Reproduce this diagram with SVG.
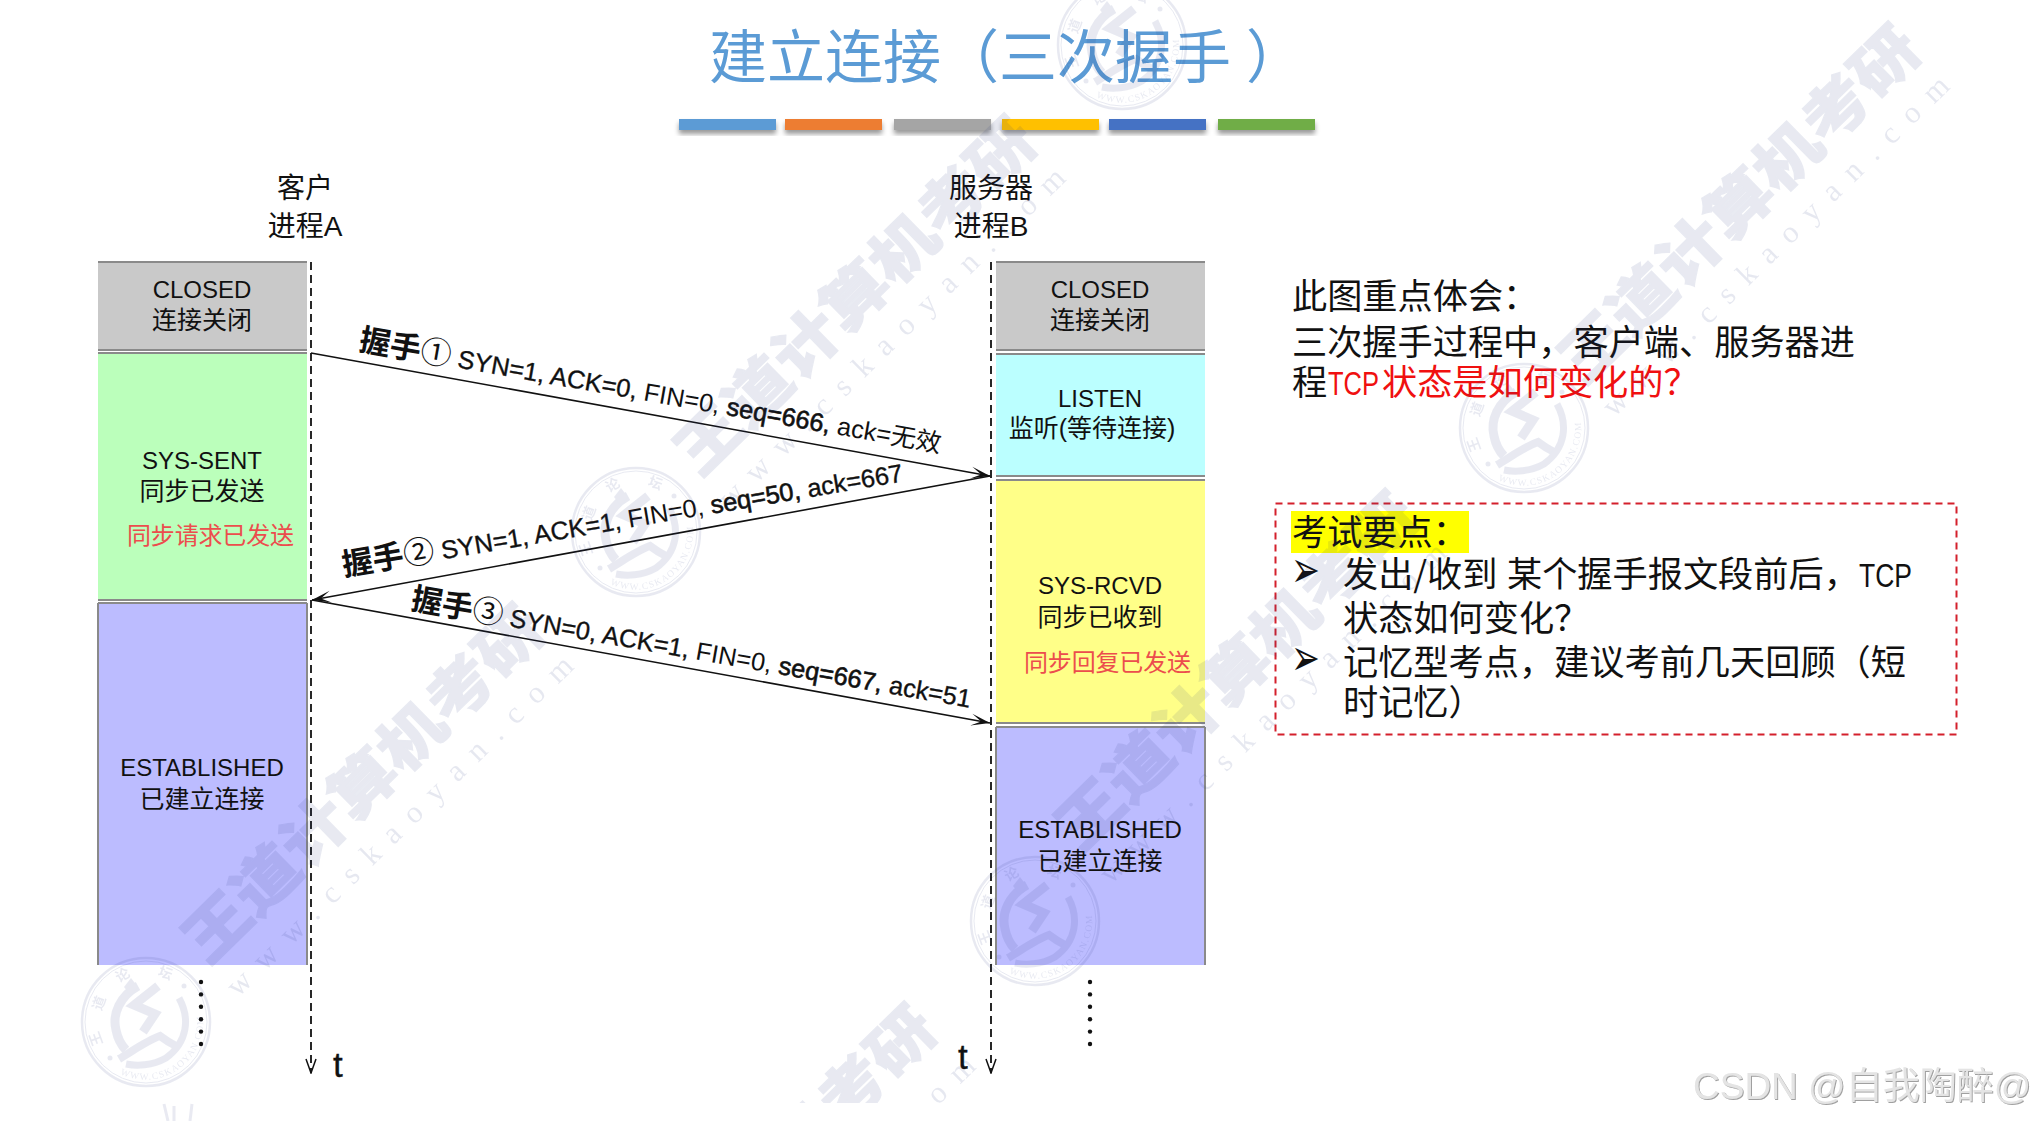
<svg xmlns="http://www.w3.org/2000/svg" xmlns:xlink="http://www.w3.org/1999/xlink" width="2034" height="1121" viewBox="0 0 2034 1121">
<style>
text{font-family:"Liberation Sans","Noto Sans CJK SC",sans-serif;fill:#111}
.s{font-size:25px;text-anchor:middle}
.l{font-size:24px;text-anchor:middle}
.h{font-size:28px;text-anchor:middle}
.r{font-size:24px;fill:#ec4d4d}
.cn{font-family:"Noto Sans CJK SC",sans-serif;font-size:35.2px;fill:#111;text-spacing-trim:space-all}
.tcp{font-size:34px}
.hs{font-size:31px;font-weight:700;font-family:"Noto Sans CJK SC",sans-serif}
.lb{font-size:25.4px}
.sm{stroke:#111;stroke-width:.35px}
.sb{stroke:#111;stroke-width:.6px}
.bd{fill:none;stroke:#8a8a8a;stroke-width:2}
.ln{stroke:#111;stroke-width:1.6;fill:none}
.dash{stroke:#111;stroke-width:1.8;fill:none;stroke-dasharray:8 5}
.wm{font-family:"Noto Sans CJK SC",sans-serif;font-weight:900;font-size:68px;fill:#25357f;stroke:#25357f;stroke-width:1.5px;opacity:.1}
.wu{font-family:"Liberation Serif",serif;font-size:31px;fill:#25357f;opacity:.11}
.st{font-family:"Noto Sans CJK SC",sans-serif;font-size:14px;font-weight:700;fill:#25357f;text-anchor:middle}
.su{font-family:"Liberation Serif",serif;font-size:9.500px;letter-spacing:1.200px;fill:#25357f}
.dot{fill:#111}
.bul{font-size:30px;font-family:"DejaVu Sans",sans-serif}
</style>
<defs>
<marker id="ah" viewBox="0 0 20 14" refX="19" refY="7" markerWidth="20" markerHeight="14" markerUnits="userSpaceOnUse" orient="auto"><path d="M0 1L19 7L0 13L10 7Z" fill="#111"/></marker>
<marker id="op" viewBox="0 0 12 16" refX="6" refY="15" markerWidth="12" markerHeight="16" markerUnits="userSpaceOnUse" orient="0"><path d="M1 1L6 15L11 1" fill="none" stroke="#111" stroke-width="1.500"/></marker>
<filter id="sh" x="-5%" y="-30%" width="110%" height="180%"><feDropShadow dx="0" dy="4" stdDeviation="2.500" flood-color="#000" flood-opacity=".4"/></filter>
<filter id="em" x="-5%" y="-10%" width="110%" height="130%"><feDropShadow dx="1" dy="1" stdDeviation=".6" flood-color="#888" flood-opacity=".8"/></filter>
<clipPath id="cb"><rect width="2034" height="1103"/></clipPath>
<path id="arc" d="M-26 52A58 58 0 0 0 55 -16"/>
<g id="stamp" opacity=".1">
<g fill="none" stroke="#25357f"><circle r="64" stroke-width="2.500"/><circle r="61" stroke-width="1"/>
<path d="M-8 -36C-26 -26 -34 -8 -30 8C-28 18 -24 24 -20 28" stroke-width="9"/>
<path d="M12 -36L-12 -17L9 -8L-3 10" stroke-width="9"/>
<path d="M-27 37C-12 28 2 18 14 14C22 20 30 24 30 24" stroke-width="8"/>
<path d="M33 -24C44 -4 42 20 20 36C6 44 -10 44 -20 42" stroke-width="7"/></g>
<path d="M-15 -44L-8 -35L-15 -26L-22 -35Z" fill="#25357f"/>
<circle cx="-36" cy="36" r="2.500" fill="#25357f"/><circle cx="38" cy="-36" r="2.500" fill="#25357f"/>
<text class="st" x="-24" y="-42" transform="rotate(-30 -24 -48)">论</text><text class="st" x="20" y="-44" transform="rotate(20 20 -50)">坛</text><text class="st" x="-47" y="-14" transform="rotate(-70 -47 -19)">道</text><text class="st" x="-50" y="22" transform="rotate(-110 -50 17)">王</text>
<text class="su"><textPath href="#arc" xlink:href="#arc">WWW.CSKAOYAN.COM</textPath></text>
</g>
</defs>
<rect width="2034" height="1121" fill="#fff"/>

<g id="client-closed"><rect x="98" y="262" width="209" height="88" fill="#c9c9c9"/><path class="bd" d="M98 262H307M98 350H307"/><text class="l" x="202" y="298">CLOSED</text><text class="s" x="202" y="329">连接关闭</text></g>
<g id="client-sent"><rect x="98" y="353" width="209" height="247" fill="#bbffbb"/><path class="bd" d="M98 353H307M98 600H307"/><text class="l" x="202" y="469">SYS-SENT</text><text class="s" x="202" y="500">同步已发送</text><text class="r" x="127" y="544" textLength="167">同步请求已发送</text></g>
<g id="client-est"><rect x="98" y="603" width="209" height="362" fill="#bcbcff"/><path class="bd" d="M98 603H307M98 603V965M307 603V965"/><text class="l" x="202" y="776">ESTABLISHED</text><text class="s" x="202" y="808">已建立连接</text></g>
<g id="server-closed"><rect x="996" y="262" width="209" height="88" fill="#c9c9c9"/><path class="bd" d="M996 262H1205M996 350H1205"/><text class="l" x="1100" y="298">CLOSED</text><text class="s" x="1100" y="329">连接关闭</text></g>
<g id="server-listen"><rect x="996" y="354" width="209" height="122" fill="#bbffff"/><path class="bd" d="M996 354H1205M996 476H1205"/><text class="l" x="1100" y="407">LISTEN</text><text class="s" x="1092" y="437">监听(等待连接)</text></g>
<g id="server-rcvd"><rect x="996" y="480" width="209" height="243" fill="#ffff88"/><path class="bd" d="M996 480H1205M996 723H1205"/><text class="l" x="1100" y="594">SYS-RCVD</text><text class="s" x="1100" y="626">同步已收到</text><text class="r" x="1024" y="671" textLength="167">同步回复已发送</text></g>
<g id="server-est"><rect x="996" y="727" width="209" height="238" fill="#bcbcff"/><path class="bd" d="M996 727H1205M996 727V965M1205 727V965"/><text class="l" x="1100" y="838">ESTABLISHED</text><text class="s" x="1100" y="870">已建立连接</text></g>

<g id="client-head"><text class="h" x="305" y="198">客户</text><text class="h" x="305" y="236">进程A</text></g>
<g id="server-head"><text class="h" x="991" y="198">服务器</text><text class="h" x="991" y="236">进程B</text></g>

<g id="connectors">
<path class="dash" d="M311 262V1073" marker-end="url(#op)"/>
<path class="dash" d="M991 262V1073" marker-end="url(#op)"/>
<path class="ln" d="M311 353L990 476" marker-end="url(#ah)"/>
<path class="ln" d="M990 476L312 600" marker-end="url(#ah)"/>
<path class="ln" d="M312 600L990 723" marker-end="url(#ah)"/>
</g>

<g id="label-1" transform="translate(358 350) rotate(10)"><text class="lb"><tspan class="hs">握手</tspan><tspan font-size="31">①</tspan><tspan class="sm"> SYN=1, ACK=0, </tspan><tspan>FIN=0, </tspan><tspan class="sb">seq=666, </tspan><tspan>ack=无效</tspan></text></g>
<g id="label-2" transform="translate(344 576) rotate(-9.6)"><text class="lb"><tspan class="hs">握手</tspan><tspan font-size="31">②</tspan><tspan class="sm"> SYN=1, ACK=1, </tspan><tspan>FIN=0, </tspan><tspan class="sb">seq=50, </tspan><tspan class="sm">ack=667</tspan></text></g>
<g id="label-3" transform="translate(410 609) rotate(10)"><text class="lb"><tspan class="hs">握手</tspan><tspan font-size="31">③</tspan><tspan class="sm"> SYN=0, ACK=1, </tspan><tspan>FIN=0, </tspan><tspan class="sb">seq=667, </tspan><tspan class="sm">ack=51</tspan></text></g>

<g id="time-a"><text x="333" y="1077" font-size="35" class="sm">t</text></g>
<g id="time-b"><text x="958" y="1069" font-size="35" class="sm">t</text></g>
<g id="ellipsis-a" class="dot"><circle cx="201" cy="982" r="2.200"/><circle cx="201" cy="994.400" r="2.200"/><circle cx="201" cy="1006.800" r="2.200"/><circle cx="201" cy="1019.200" r="2.200"/><circle cx="201" cy="1031.600" r="2.200"/><circle cx="201" cy="1044" r="2.200"/></g>
<g id="ellipsis-b" class="dot"><circle cx="1090" cy="982" r="2.200"/><circle cx="1090" cy="994.400" r="2.200"/><circle cx="1090" cy="1006.800" r="2.200"/><circle cx="1090" cy="1019.200" r="2.200"/><circle cx="1090" cy="1031.600" r="2.200"/><circle cx="1090" cy="1044" r="2.200"/></g>

<g id="title">
<text class="cn" x="709" y="78" style="font-size:58px;fill:#5b9bd5">建立连接（三次握手<tspan dx="15">）</tspan></text>
<g filter="url(#sh)"><rect x="679" y="119" width="97" height="11" fill="#5b9bd5"/><rect x="785" y="119" width="97" height="11" fill="#ed7d31"/><rect x="894" y="119" width="97" height="11" fill="#a5a5a5"/><rect x="1002" y="119" width="97" height="11" fill="#ffc000"/><rect x="1109" y="119" width="97" height="11" fill="#4472c4"/><rect x="1218" y="119" width="97" height="11" fill="#70ad47"/></g>
</g>

<g id="note">
<text class="cn" x="1292" y="309">此图重点体会：</text>
<text class="cn" x="1292" y="355">三次握手过程中，客户端、服务器进</text>
<text class="cn" x="1292" y="395">程</text>
<text class="tcp" x="1328" y="395" textLength="51" lengthAdjust="spacingAndGlyphs" style="fill:#f01010">TCP</text>
<text class="cn" x="1382" y="395" style="fill:#f01010">状态是如何变化的？</text>
</g>
<g id="keypoints">
<rect x="1275.500" y="503.500" width="681" height="231" fill="none" stroke="#d4202c" stroke-width="2" stroke-dasharray="7 5"/>
<rect x="1291" y="511" width="178" height="42" fill="#ffff00"/>
<text class="cn" x="1292" y="545">考试要点：</text>
<text class="bul" transform="translate(1291 587) scale(1.15 1.7)">➢</text>
<text class="cn" y="587"><tspan x="1343">发出/</tspan><tspan x="1427">收到</tspan><tspan x="1507">某个握手报文段前后，</tspan></text>
<text class="tcp" x="1859" y="587" textLength="53" lengthAdjust="spacingAndGlyphs">TCP</text>
<text class="cn" x="1343" y="631">状态如何变化？</text>
<text class="bul" transform="translate(1291 675) scale(1.15 1.7)">➢</text>
<text class="cn" x="1343" y="675">记忆型考点，建议考前几天回顾（短</text>
<text class="cn" x="1343" y="715">时记忆）</text>
</g>

<g id="watermark">
<text class="wm" transform="translate(700 478) rotate(-44.400) scale(1 .88)">王道计算机考研</text>
<text class="wm" transform="translate(1584 386) rotate(-44.400) scale(1 .88)">王道计算机考研</text>
<text class="wm" transform="translate(208 966) rotate(-44.400) scale(1 .88)">王道计算机考研</text>
<text class="wm" transform="translate(1081 853) rotate(-44.400) scale(1 .88)">王道计算机考研</text>
<g clip-path="url(#cb)"><text class="wm" transform="translate(600 1366) rotate(-44.400) scale(1 .88)">王道计算机考研</text>
<text class="wu" transform="translate(640 1398) rotate(-44.400)" textLength="472">www.cskaoyan.com</text></g>
<text class="wu" transform="translate(730 510) rotate(-44.400)" textLength="472">www.cskaoyan.com</text>
<text class="wu" transform="translate(1614 418) rotate(-44.400)" textLength="472">www.cskaoyan.com</text>
<text class="wu" transform="translate(238 998) rotate(-44.400)" textLength="472">www.cskaoyan.com</text>
<text class="wu" transform="translate(1111 885) rotate(-44.400)" textLength="472">www.cskaoyan.com</text>
<use xlink:href="#stamp" href="#stamp" x="146" y="1022"/>
<use xlink:href="#stamp" href="#stamp" x="636" y="532"/>
<use xlink:href="#stamp" href="#stamp" x="1035" y="921"/>
<use xlink:href="#stamp" href="#stamp" x="1524" y="428"/>
<use xlink:href="#stamp" href="#stamp" x="1122" y="45"/>
<path d="M164 1104L168 1121M174 1106V1121M192 1104L190 1121" fill="none" stroke="#25357f" stroke-width="3" opacity=".1"/>
</g>
<text id="csdn" x="1693" y="1099" font-size="37" filter="url(#em)" style="fill:#e4e4e4">CSDN @自我陶醉@</text>
</svg>
